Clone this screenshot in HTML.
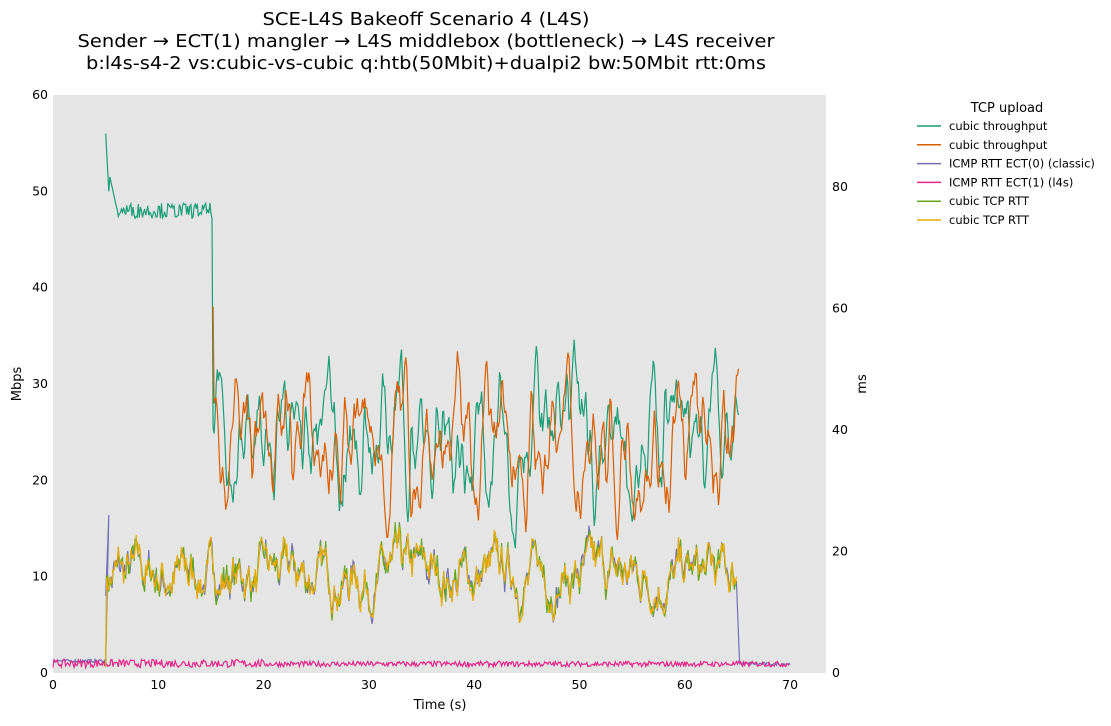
<!DOCTYPE html>
<html><head><meta charset="utf-8"><style>
body{margin:0;background:#fff;font-family:"Liberation Sans","DejaVu Sans",sans-serif}
svg text{font-family:"DejaVu Sans","Liberation Sans",sans-serif}
</style></head><body>
<svg id="s" width="1111" height="721" xmlns="http://www.w3.org/2000/svg">
<text x="426" y="25" font-size="18" text-anchor="middle" textLength="327" lengthAdjust="spacingAndGlyphs">SCE-L4S Bakeoff Scenario 4 (L4S)</text>
<text x="426" y="47" font-size="18" text-anchor="middle" textLength="697" lengthAdjust="spacingAndGlyphs">Sender → ECT(1) mangler → L4S middlebox (bottleneck) → L4S receiver</text>
<text x="426" y="69" font-size="18" text-anchor="middle" textLength="680" lengthAdjust="spacingAndGlyphs">b:l4s-s4-2 vs:cubic-vs-cubic q:htb(50Mbit)+dualpi2 bw:50Mbit rtt:0ms</text>
<rect x="53" y="95" width="773" height="578" fill="#e5e5e5"/>
<g id="lines" fill="none" stroke-width="1.2"></g>
<g font-size="12.5" id="ax"></g>
<text x="440" y="709" font-size="13" text-anchor="middle">Time (s)</text>
<text x="21" y="384" font-size="13" text-anchor="middle" transform="rotate(-90 21 384)">Mbps</text>
<text x="866" y="384" font-size="13" text-anchor="middle" transform="rotate(-90 866 384)">ms</text>
<text x="1007" y="112" font-size="13" text-anchor="middle">TCP upload</text>
<g font-size="11.5" id="leg"></g>
</svg>
<script>
var s=document.getElementById('s'),ax=document.getElementById('ax'),L=document.getElementById('lines'),lg=document.getElementById('leg');
var NS='http://www.w3.org/2000/svg';
function el(p,t,a,txt){var e=document.createElementNS(NS,t);for(var k in a)e.setAttribute(k,a[k]);if(txt!=null)e.textContent=txt;p.appendChild(e);return e;}
function X(t){return 53+t*10.53}function YM(v){return 673-v*9.633}function YR(v){return 673-v*6.075}
for(var i=0;i<=70;i+=10)el(ax,'text',{x:X(i),y:689,'text-anchor':'middle'},i);
for(var i=0;i<=60;i+=10)el(ax,'text',{x:48,y:YM(i)+4,'text-anchor':'end'},i);
for(var i=0;i<=80;i+=20)el(ax,'text',{x:832,y:YR(i)+4},i);
var seed=7;function r(){seed=(seed*16807)%2147483647;return seed/2147483647;}
function path(pts,c){var d='';pts.forEach(function(p,i){d+=(i?'L':'M')+p[0].toFixed(1)+' '+p[1].toFixed(1);});el(L,'path',{d:d,stroke:c});}
var C=['#1b9e77','#d95f02','#7570b3','#e7298a','#66a61e','#e6ab02'];
var rtt=[],v=16;
for(var t=5;t<=65;t+=0.1){v+=(16-v)*0.15+(r()-0.5)*5;rtt.push([t,Math.max(9,Math.min(24,v))]);}
var p=[];for(var t=0;t<5;t+=0.1)p.push([X(t),YR(2+(r()-0.5)*0.5)]);
rtt.forEach(function(q){p.push([X(q[0]),YR(q[1]+(r()-0.5)*2)]);});
p[50][1]=YR(1);p.splice(51,0,[X(5.3),YR(26)]);
for(var t=65.2;t<=70;t+=0.1)p.push([X(t),YR(1.5+(r()-0.5)*0.5)]);
path(p,C[2]);
p=[];for(var t=0;t<=70;t+=0.1)p.push([X(t),YR(1.3+(r()-0.3)*0.9*(t<20?1.5:1))]);path(p,C[3]);
[C[4],C[5]].forEach(function(c){p=[];rtt.forEach(function(q){p.push([X(q[0]),YR(q[1]+(r()-0.5)*2.5)]);});p[0][1]=YR(1);path(p,c);});
p=[];
for(var t=5;t<=15.1;t+=0.1){var y=t<5.3?56-(t-5)*20:t<6?52-(t-5.3)*5:48+(r()-0.5)*1.6;p.push([X(t),YM(y)]);}
var g=24,o=24,gv=0,ov=0;var po=[];
for(var t=15.2;t<=65.2;t+=0.1){gv=gv*0.5+(24-g)*0.15+(r()-0.5)*5;ov=ov*0.5+(24-o)*0.15+(r()-0.5)*5;g+=gv;o+=ov;
 g=Math.max(11,Math.min(35,g));o=Math.max(13,Math.min(40,o));p.push([X(t),YM(g)]);po.push([X(t),YM(o)]);}
po[0][1]=YM(38);
path(p,C[0]);path(po,C[1]);
var names=['cubic throughput','cubic throughput','ICMP RTT ECT(0) (classic)','ICMP RTT ECT(1) (l4s)','cubic TCP RTT','cubic TCP RTT'];
names.forEach(function(n,i){var y=126+i*18.8;el(lg,'line',{x1:917,x2:941,y1:y,y2:y,stroke:C[i],'stroke-width':1.5});el(lg,'text',{x:949,y:y+4},n);});
</script>
</body></html>
